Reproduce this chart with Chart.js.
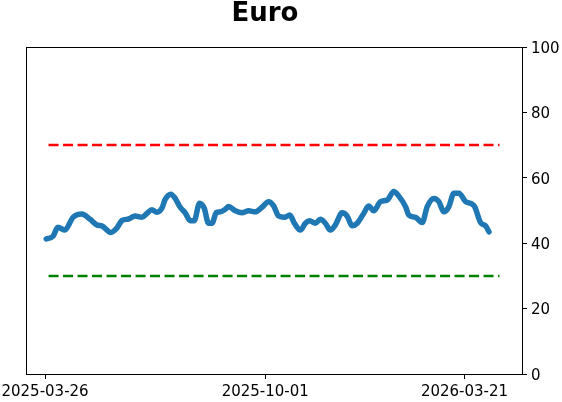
<!DOCTYPE html>
<html>
<head>
<meta charset="utf-8">
<script src="https://cdn.jsdelivr.net/npm/chart.js@4.4.0/dist/chart.umd.min.js"></script>
<style>
  html, body { margin: 0; padding: 0; background: #fff; }
  canvas { display: block; }
</style>
</head>
<body>
<canvas id="chart-canvas" width="562" height="402"></canvas>
<script>
// data
const title = "Euro";
const startDate = "2025-03-26";
// days after startDate
const days = [1, 7, 11, 17, 24, 31.5, 38.7, 44.4, 48.7, 56.5, 61.6, 65.9, 71.6, 77.3,
  83.1, 87.4, 91.7, 96, 100.3, 103.1, 108, 111.7, 116, 120.3, 124.6, 128, 132.6, 136.6,
  140.3, 143.3, 147, 150.4, 154.7, 157.5, 163.3, 169, 174.7, 180.5, 186.2, 191.9, 196.2,
  200.5, 205.4, 210, 214, 219.2, 223.4, 227.1, 232, 236.3, 240.6, 244.9, 249.2, 255,
  259.3, 263.6, 267.9, 273.5, 277.8, 282.1, 287.9, 293.7, 299.3, 303.6, 309.4, 312.2,
  318, 323.7, 328, 333.7, 338, 342.3, 346.6, 350.9, 355.2, 361, 365.3, 368.7, 373.8,
  378.1, 381];
const values = [41.3, 42.2, 44.9, 44.0, 47.9, 48.9, 47.3, 45.6, 45.3, 43.3, 44.6, 46.9,
  47.4, 48.3, 47.9, 49.1, 50.2, 49.5, 50.7, 53.4, 55.0, 53.7, 51.0, 49.3, 46.9, 46.9,
  52.2, 50.7, 46.1, 46.1, 49.4, 49.6, 50.4, 51.2, 49.9, 49.3, 49.9, 49.6, 51.0, 52.7,
  51.4, 48.3, 47.9, 48.6, 46.1, 44.0, 46.1, 46.9, 46.1, 47.3, 46.1, 44.0, 45.6, 49.3,
  48.3, 45.3, 46.1, 49.1, 51.4, 49.9, 52.7, 53.2, 55.8, 54.4, 51.2, 48.6, 47.9, 46.3,
  51.2, 53.7, 52.7, 49.6, 51.2, 55.3, 55.3, 52.7, 52.2, 51.2, 46.3, 45.3, 43.5];

const refDates = ["2025-03-29", "2026-04-20"];
const upperLevel = 70;
const lowerLevel = 30;

const tickLabels = ["2025-03-26", "2025-10-01", "2026-03-21"];
const yTicks = [0, 20, 40, 60, 80, 100];

function dayOf(s) {
  return (Date.parse(s) - Date.parse(startDate)) / 86400000;
}

let refStart = dayOf(refDates[0]);
let refEnd = dayOf(refDates[1]);
let margin = (refEnd - refStart) * 0.05;
let tickDays = tickLabels.map(dayOf);

let series = [];
for (let i = 0; i < days.length; i++) {
  series.push({ x: days[i], y: values[i] });
}

// frame round the plot + the title
const boxPlugin = {
  id: "box",
  afterDraw(c) {
    let a = c.chartArea;
    let ctx = c.ctx;
    ctx.save();
    ctx.strokeStyle = "#000";
    ctx.lineWidth = 1;
    ctx.strokeRect(Math.round(a.left) + 0.5, Math.round(a.top) + 0.5,
      Math.round(a.right - a.left), Math.round(a.bottom - a.top));
    ctx.fillStyle = "#000";
    ctx.font = "bold 26px 'DejaVu Sans', sans-serif";
    ctx.textAlign = "center";
    ctx.textBaseline = "alphabetic";
    ctx.fillText(title, 265, 21);
    ctx.restore();
  },
};

Chart.defaults.font.family = "'DejaVu Sans', sans-serif";
Chart.defaults.color = "#000";

let chart = new Chart(document.getElementById("chart-canvas"), {
  type: "line",
  data: {
    datasets: [
      {
        data: [{ x: refStart, y: upperLevel }, { x: refEnd, y: upperLevel }],
        borderColor: "red",
        borderWidth: 2.5,
        borderDash: [10, 4.5],
        pointRadius: 0,
      },
      {
        data: [{ x: refStart, y: lowerLevel }, { x: refEnd, y: lowerLevel }],
        borderColor: "green",
        borderWidth: 2.5,
        borderDash: [10, 4.5],
        pointRadius: 0,
      },
      {
        data: series,
        borderColor: "#1f77b4",
        borderWidth: 5.5,
        cubicInterpolationMode: "monotone",
        borderCapStyle: "round",
        borderJoinStyle: "round",
        pointRadius: 0,
      },
    ],
  },
  options: {
    responsive: false,
    animation: false,
    layout: { padding: { left: 26, top: 47, right: 0, bottom: 0 } },
    plugins: {
      legend: { display: false },
      tooltip: { enabled: false },
      title: { display: false },
    },
    scales: {
      x: {
        type: "linear",
        position: "bottom",
        min: refStart - margin,
        max: refEnd + margin,
        afterBuildTicks: (scale) => {
          scale.ticks = tickDays.map((d) => ({ value: d }));
        },
        afterFit: (scale) => {
          scale.height = 28;
          scale.paddingLeft = 0;
          scale.paddingRight = 0;
        },
        ticks: {
          font: { size: 15 },
          color: "#000",
          padding: 4,
          maxRotation: 0,
          autoSkip: false,
          callback: (v) => {
            let i = tickDays.indexOf(v);
            return i >= 0 ? tickLabels[i] : "";
          },
        },
        grid: { drawOnChartArea: false, drawTicks: true, tickLength: 5, color: "#000" },
        border: { display: true, color: "#000" },
      },
      y: {
        position: "right",
        min: 0,
        max: 100,
        afterBuildTicks: (scale) => {
          scale.ticks = yTicks.map((v) => ({ value: v }));
        },
        afterFit: (scale) => {
          scale.width = 40;
          scale.paddingTop = 0;
          scale.paddingBottom = 0;
        },
        ticks: { font: { size: 15 }, color: "#000", padding: 4, labelOffset: 2 },
        grid: { drawOnChartArea: false, drawTicks: true, tickLength: 5, color: "#000" },
        border: { display: true, color: "#000" },
      },
    },
  },
  plugins: [boxPlugin],
});
</script>
</body>
</html>
